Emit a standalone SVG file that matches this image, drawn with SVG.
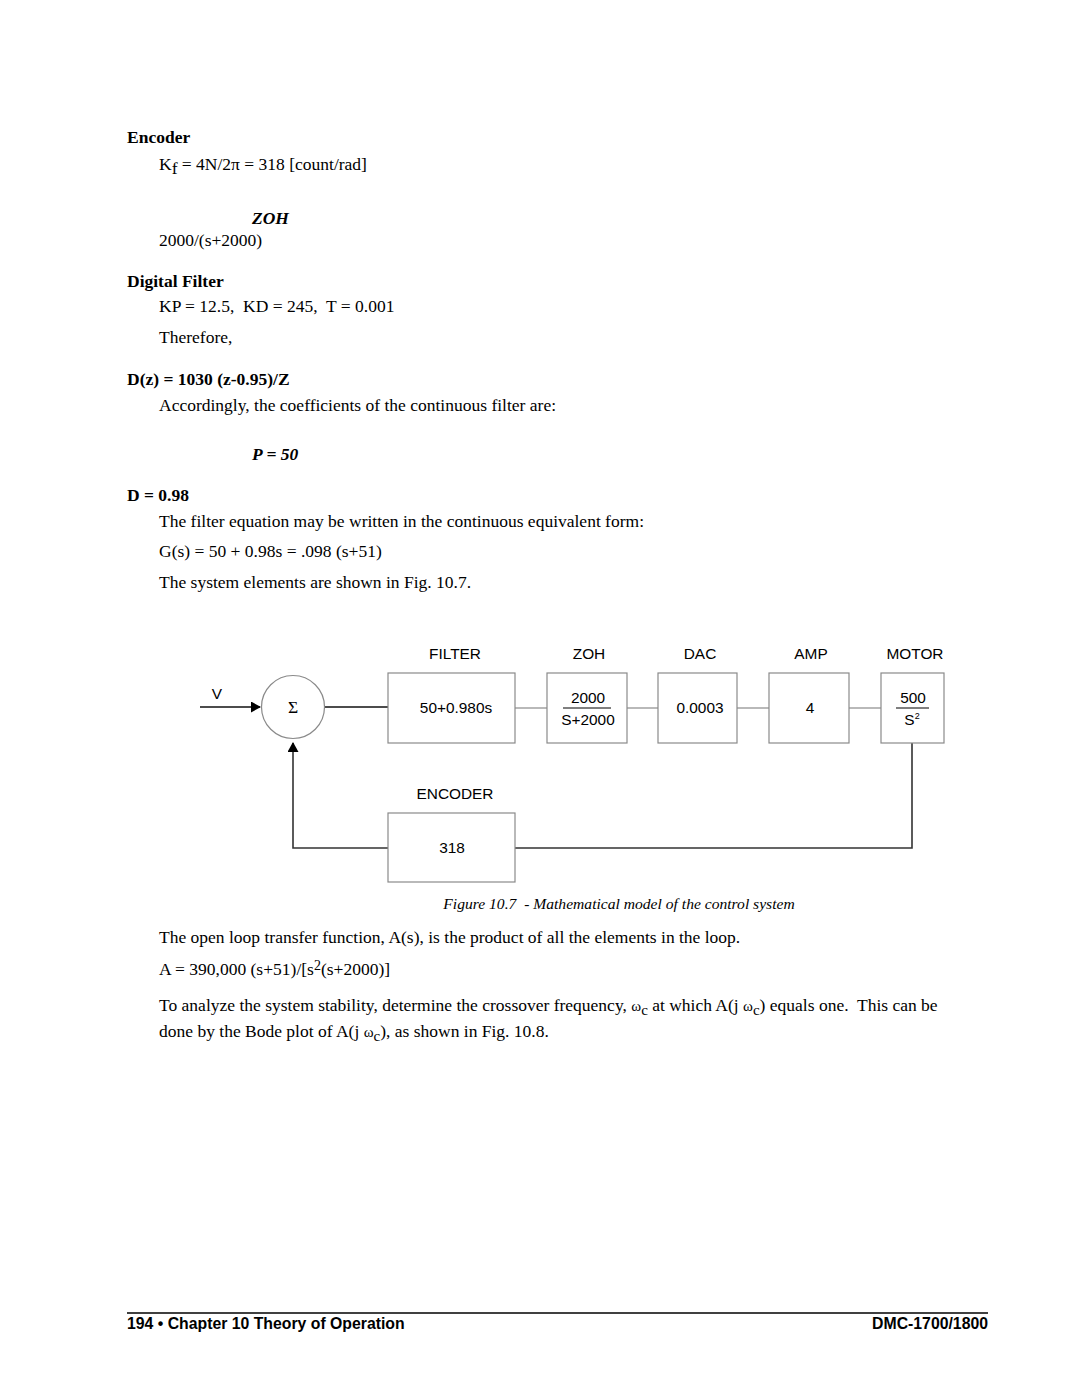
<svg xmlns="http://www.w3.org/2000/svg" width="1080" height="1397" viewBox="0 0 1080 1397">
<style>
.t{font-family:"Liberation Serif","Times New Roman",serif;font-size:17.5px;fill:#000}
.b{font-weight:bold}
.bi{font-weight:bold;font-style:italic}
.a{font-family:"Liberation Sans",Arial,sans-serif;font-size:15.4px;fill:#000}
.box{fill:#fff;stroke:#8a8a8a;stroke-width:1.2}
.thin{stroke:#8a8a8a;stroke-width:1.2;fill:none}
.thick{stroke:#111;stroke-width:1.6;fill:none}
.fb{stroke:#333;stroke-width:1.6;fill:none}
.cap{font-family:"Liberation Serif","Times New Roman",serif;font-size:15.6px;font-style:italic;fill:#000}
.foot{font-family:"Liberation Sans",Arial,sans-serif;font-size:15.8px;font-weight:bold;fill:#000}
</style>
<defs>
<marker id="arr" markerWidth="10" markerHeight="11" refX="9" refY="5.5" orient="auto" markerUnits="userSpaceOnUse">
<path d="M0,0 L10,5.5 L0,11 Z" fill="#000"/>
</marker>
</defs>
<rect width="1080" height="1397" fill="#fff"/>

<g id="text-top">
<text class="t b" x="127" y="143">Encoder</text>
<text class="t" x="159" y="170">K<tspan dy="4">f</tspan><tspan dy="-4"> = 4N/2π = 318 [count/rad]</tspan></text>
<text class="t bi" x="252" y="224">ZOH</text>
<text class="t" x="159" y="246">2000/(s+2000)</text>
<text class="t b" x="127" y="287">Digital Filter</text>
<text class="t" x="159" y="312" xml:space="preserve">KP = 12.5,  KD = 245,  T = 0.001</text>
<text class="t" x="159" y="343">Therefore,</text>
<text class="t b" x="127" y="385">D(z) = 1030 (z-0.95)/Z</text>
<text class="t" x="159" y="411">Accordingly, the coefficients of the continuous filter are:</text>
<text class="t bi" x="252" y="460">P = 50</text>
<text class="t b" x="127" y="501">D = 0.98</text>
<text class="t" x="159" y="527">The filter equation may be written in the continuous equivalent form:</text>
<text class="t" x="159" y="557">G(s) = 50 + 0.98s = .098 (s+51)</text>
<text class="t" x="159" y="588">The system elements are shown in Fig. 10.7.</text>
</g>

<g id="connectors">
<line class="thick" x1="200" y1="707" x2="260" y2="707" marker-end="url(#arr)"/>
<line class="thick" x1="324" y1="707" x2="388" y2="707"/>
<line class="thin" x1="515" y1="708" x2="547" y2="708"/>
<line class="thin" x1="627" y1="708" x2="658" y2="708"/>
<line class="thin" x1="737" y1="708" x2="769" y2="708"/>
<line class="thin" x1="849" y1="708" x2="881" y2="708"/>
<polyline class="fb" points="912,743 912,848 515,848"/>
<polyline class="fb" points="388,848 293,848 293,743" marker-end="url(#arr)"/>
</g>

<g id="sum">
<circle cx="293" cy="707" r="31.5" fill="#fff" stroke="#8a8a8a" stroke-width="1.2"/>
<text class="t" x="293" y="713" text-anchor="middle" font-size="15">Σ</text>
<text class="a" x="217" y="699" text-anchor="middle">V</text>
</g>

<g id="filter">
<text class="a" x="455" y="659" text-anchor="middle">FILTER</text>
<rect class="box" x="388" y="673" width="127" height="70"/>
<text class="a" x="456" y="713" text-anchor="middle">50+0.980s</text>
</g>

<g id="zoh">
<text class="a" x="589" y="659" text-anchor="middle">ZOH</text>
<rect class="box" x="547" y="673" width="80" height="70"/>
<text class="a" x="588" y="703" text-anchor="middle">2000</text>
<line x1="563" y1="708" x2="611" y2="708" stroke="#000" stroke-width="1"/>
<text class="a" x="588" y="725" text-anchor="middle">S+2000</text>
</g>

<g id="dac">
<text class="a" x="700" y="659" text-anchor="middle">DAC</text>
<rect class="box" x="658" y="673" width="79" height="70"/>
<text class="a" x="700" y="713" text-anchor="middle">0.0003</text>
</g>

<g id="amp">
<text class="a" x="811" y="659" text-anchor="middle">AMP</text>
<rect class="box" x="769" y="673" width="80" height="70"/>
<text class="a" x="810" y="713" text-anchor="middle">4</text>
</g>

<g id="motor">
<text class="a" x="915" y="659" text-anchor="middle">MOTOR</text>
<rect class="box" x="881" y="673" width="63" height="70"/>
<text class="a" x="913" y="703" text-anchor="middle">500</text>
<line x1="896" y1="708" x2="929" y2="708" stroke="#000" stroke-width="1"/>
<text class="a" x="912" y="725" text-anchor="middle">S<tspan font-size="9" dy="-6">2</tspan></text>
</g>

<g id="encoder">
<text class="a" x="455" y="799" text-anchor="middle">ENCODER</text>
<rect class="box" x="388" y="813" width="127" height="69"/>
<text class="a" x="452" y="853" text-anchor="middle">318</text>
</g>

<text class="cap" x="619" y="909" text-anchor="middle" xml:space="preserve">Figure 10.7  - Mathematical model of the control system</text>

<g id="text-bottom">
<text class="t" x="159" y="943">The open loop transfer function, A(s), is the product of all the elements in the loop.</text>
<text class="t" x="159" y="975">A = 390,000 (s+51)/[s<tspan dy="-5" font-size="14">2</tspan><tspan dy="5">(s+2000)]</tspan></text>
<text class="t" x="159" y="1011" xml:space="preserve">To analyze the system stability, determine the crossover frequency, <tspan font-size="15">ω</tspan><tspan dy="4" font-size="15">c</tspan><tspan dy="-4"> at which A(j </tspan><tspan font-size="15">ω</tspan><tspan dy="4" font-size="15">c</tspan><tspan dy="-4">) equals one.  This can be</tspan></text>
<text class="t" x="159" y="1037">done by the Bode plot of A(j <tspan font-size="15">ω</tspan><tspan dy="4" font-size="15">c</tspan><tspan dy="-4">), as shown in Fig. 10.8.</tspan></text>
</g>

<g id="footer">
<line x1="127" y1="1313" x2="988" y2="1313" stroke="#000" stroke-width="1.5"/>
<text class="foot" x="127" y="1329">194 • Chapter 10 Theory of Operation</text>
<text class="foot" x="988" y="1329" text-anchor="end">DMC-1700/1800</text>
</g>
</svg>
